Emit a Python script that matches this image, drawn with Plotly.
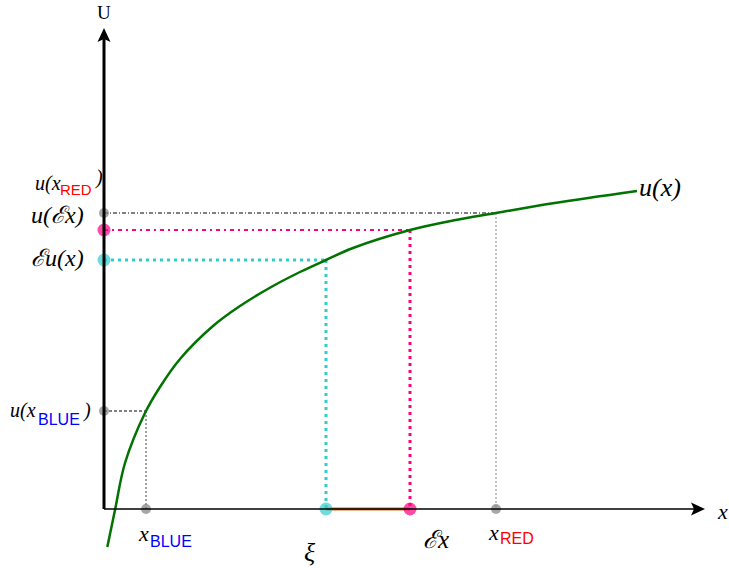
import plotly.graph_objects as go

# Concave utility curve u(x), sampled points
curve_x = [3.3, 11, 21, 41, 56, 76, 109, 136, 169, 196, 222, 249, 306, 349, 392, 449, 533]
curve_u = [-38, -1, 46, 96, 122, 150, 183, 203, 223, 237, 249, 261, 279, 288.5, 296, 305.7, 318]

# Key points on the x axis
x_blue = 42
xi = 222
ex = 306
x_red = 392

# Key utility levels on the vertical axis
u_blue = 98
eu = 249
u_ex = 279
u_red = 296

# Axis extents
y_top = 481
x_right = 601

GRAY = "rgb(128,128,128)"
PINK = "rgb(255,0,128)"
CYAN = "rgb(51,204,204)"
GREEN = "rgb(0,115,0)"
ORANGE = "rgb(214,110,20)"

fig = go.Figure()

def seg(xs, ys, color, width, dash):
    fig.add_trace(go.Scatter(x=xs, y=ys, mode="lines",
                             line=dict(color=color, width=width, dash=dash),
                             hoverinfo="skip", showlegend=False))

# guide lines from the curve to the axes
seg([0, x_red], [u_red, u_red], GRAY, 2, "4px,2px,1px,2px")
seg([x_red, x_red], [u_red, 0], GRAY, 1, "2px,2px")
seg([0, ex], [u_ex, u_ex], PINK, 2, "4px,4px,2px,4px")
seg([ex, ex], [u_ex, 0], PINK, 3, "3px,4px")
seg([0, xi], [eu, eu], CYAN, 3, "3px,4px")
seg([xi, xi], [eu, 0], CYAN, 3, "3px,4px")
seg([0, x_blue], [u_blue, u_blue], GRAY, 2, "3px,2px")
seg([x_blue, x_blue], [u_blue, 0], GRAY, 1.5, "2px,2px")

# axes with arrow heads
fig.add_shape(type="line", x0=0, y0=0, x1=0, y1=y_top - 8, xref="x", yref="y",
              line=dict(color="black", width=3))
fig.add_shape(type="line", x0=0, y0=0, x1=x_right - 8, y1=0, xref="x", yref="y",
              line=dict(color="black", width=1.6))
fig.add_shape(type="path", xref="x", yref="y", fillcolor="black", line=dict(width=0),
              path=f"M 0 {y_top} L 6.5 {y_top-14} L 0 {y_top-11} L -6.5 {y_top-14} Z")
fig.add_shape(type="path", xref="x", yref="y", fillcolor="black", line=dict(width=0),
              path=f"M {x_right} 0 L {x_right-14} 6.5 L {x_right-11} 0 L {x_right-14} -6.5 Z")

# gap between xi and Ex
seg([xi, ex], [0, 0], ORANGE, 3, "solid")

# utility curve
fig.add_trace(go.Scatter(x=curve_x, y=curve_u, mode="lines",
                         line=dict(color=GREEN, width=2.5, shape="spline", smoothing=1.0),
                         hoverinfo="skip", showlegend=False))

# markers on the axes
mk_x = [0, 0, 0, 0, x_blue, xi, ex, x_red]
mk_y = [u_red, u_ex, eu, u_blue, 0, 0, 0, 0]
mk_c = [GRAY, PINK, CYAN, GRAY, GRAY, CYAN, PINK, GRAY]
mk_s = [10, 13, 13, 10, 10, 13, 13, 10]
fig.add_trace(go.Scatter(x=mk_x, y=mk_y, mode="markers",
                         marker=dict(color=mk_c, size=mk_s, line=dict(width=0)),
                         hoverinfo="skip", showlegend=False))

SERIF = "Liberation Serif"
SANS = "Liberation Sans"

def label(x, y, text, size, xanchor="center", style="italic", family=SERIF, color="black"):
    fig.add_annotation(x=x, y=y, xref="x", yref="y", text=text, showarrow=False,
                       xanchor=xanchor, yanchor="middle",
                       font=dict(family=family, size=size, color=color, style=style))

def tag(x, y, word, color, size=16):
    # subscript tag written in upright sans capitals
    label(x, y, word, size, "left", style="normal", family=SANS, color=color)

label(0, 497, "U", 19, style="normal")
label(618, -2, "x", 22)

# u(x_RED)
label(-41, 326, "u(x", 20, "right")
tag(-46, 320, "RED", "red", 15)
label(-5, 332, ")", 20)

label(-18, 294, "u(ℰx)", 24, "right")
label(-18, 251, "ℰu(x)", 24, "right")

# u(x_BLUE)
label(-66, 99, "u(x", 20, "right")
tag(-68, 90, "BLUE", "blue")
label(-17, 99, ")", 20)

# x_BLUE
label(47, -24, "x", 22, "right")
tag(44, -32, "BLUE", "blue")

label(206, -43, "ξ", 26)
label(332, -30, "ℰx", 25)

# x_RED
label(397, -23, "x", 22, "right")
tag(394, -29, "RED", "red")

label(533, 322, "u(x)", 26, "left")

fig.update_layout(
    width=729, height=568,
    margin=dict(l=0, r=0, t=0, b=0),
    paper_bgcolor="white", plot_bgcolor="white",
    xaxis=dict(range=[-104, 625], visible=False, fixedrange=True),
    yaxis=dict(range=[-59, 509], visible=False, fixedrange=True),
    showlegend=False,
)

fig.write_html("out.html")
